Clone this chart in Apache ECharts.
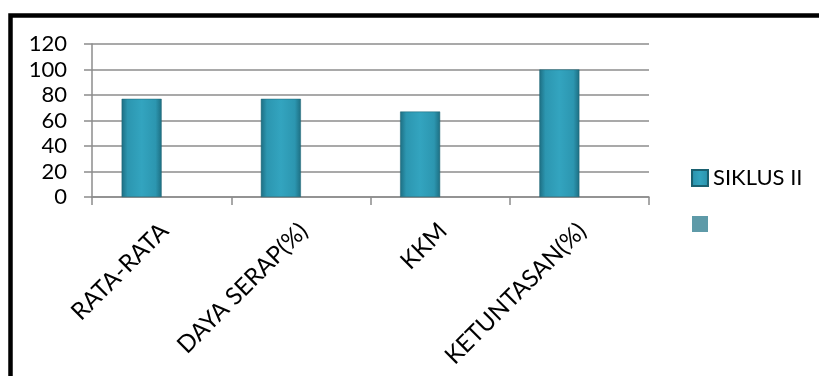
<!DOCTYPE html>
<html>
<head>
<meta charset="utf-8">
<script src="https://cdn.jsdelivr.net/npm/echarts@6/dist/echarts.min.js"></script>
<style>
  html, body { margin: 0; padding: 0; background: #fff; }
  #chart { width: 819px; height: 376px; }
</style>
</head>
<body>
<div id="chart"></div>
<script>
// data
var categories = ['RATA-RATA', 'DAYA SERAP(%)', 'KKM', 'KETUNTASAN(%)'];
var siklus2 = [77, 77, 67, 100];
var seriesKosong = [null, null, null, null];   // second series, no values shown
var namaSeri = ['SIKLUS II', ' '];

var fontKu = 'Lato, "Liberation Sans", sans-serif';

var myChart = echarts.init(document.getElementById('chart'));
var option = {
    backgroundColor: '#fff',
    animation: false,
    textStyle: { fontFamily: fontKu },
    graphic: [
        {
            type: 'polyline',
            shape: { points: [[10.5, 380], [10.5, 15.5], [819, 15.5]] },
            style: { stroke: '#000', lineWidth: 4.5, fill: null }
        }
    ],
    legend: {
        orient: 'vertical',
        left: 686,
        top: 162,
        itemWidth: 16,
        itemHeight: 16,
        itemGap: 24,
        icon: 'rect',
        data: namaSeri,
        textStyle: { fontFamily: fontKu, fontSize: 22, color: '#000' }
    },
    grid: {
        left: 92,
        right: 170,
        top: 44,
        bottom: 179
    },
    xAxis: {
        type: 'category',
        data: categories,
        axisLine: { lineStyle: { color: '#8c8c8c', width: 1.5 } },
        axisTick: { show: true, length: 8, lineStyle: { color: '#8c8c8c', width: 1.5 } },
        axisLabel: {
            rotate: 45,
            margin: 16,
            align: 'right',
            verticalAlign: 'top',
            padding: [0, 8, 0, 0],
            fontFamily: fontKu,
            fontSize: 24,
            color: '#000'
        }
    },
    yAxis: {
        type: 'value',
        min: 0,
        max: 120,
        interval: 20,
        axisLine: { show: true, lineStyle: { color: '#8c8c8c', width: 1.5 } },
        axisTick: { show: true, length: 8, lineStyle: { color: '#8c8c8c', width: 1.5 } },
        splitLine: { lineStyle: { color: '#8c8c8c', width: 1.5 } },
        axisLabel: {
            margin: 25,
            fontFamily: fontKu,
            fontSize: 22,
            color: '#000'
        }
    },
    series: [
        {
            name: namaSeri[0],
            type: 'bar',
            barWidth: 40,
            barGap: '0%',
            data: siklus2,
            itemStyle: {
                color: new echarts.graphic.LinearGradient(0, 0, 1, 0, [
                    { offset: 0, color: '#1d6e82' },
                    { offset: 0.15, color: '#2c96b0' },
                    { offset: 0.5, color: '#33a4bf' },
                    { offset: 0.85, color: '#2c96b0' },
                    { offset: 1, color: '#1d6e82' }
                ]),
                borderColor: '#1a6070',
                borderWidth: 0.5
            }
        },
        {
            name: namaSeri[1],
            type: 'bar',
            barWidth: 40,
            data: seriesKosong,
            itemStyle: { color: '#5e9aa8' }
        }
    ]
};
myChart.setOption(option, true);
</script>
</body>
</html>
